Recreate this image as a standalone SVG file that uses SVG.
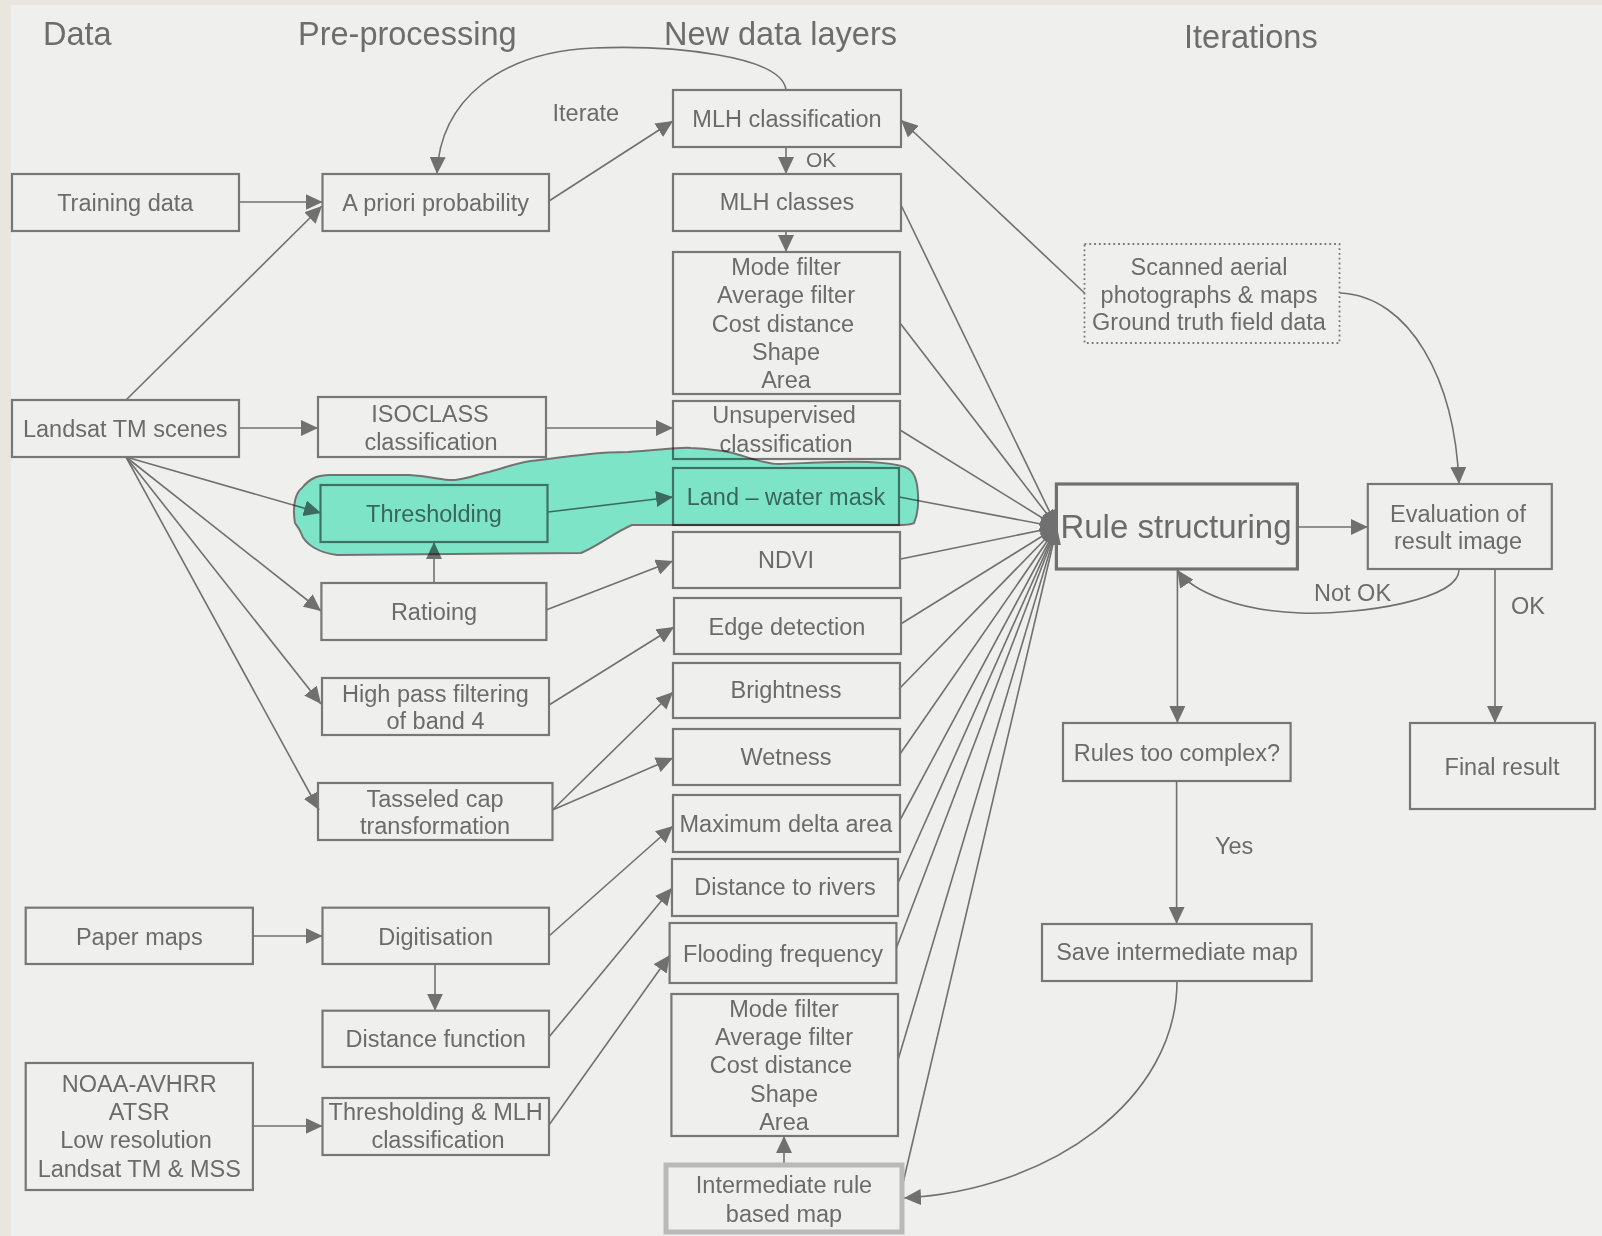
<svg xmlns="http://www.w3.org/2000/svg" width="1602" height="1236" viewBox="0 0 1602 1236">
<style>
.box{fill:none;stroke:#777;stroke-width:2.2}
.dot{fill:none;stroke:#777;stroke-width:1.8;stroke-dasharray:1.8 3}
.thick{fill:none;stroke:#707070;stroke-width:3.2}
.grey{fill:none;stroke:#b9b9b9;stroke-width:5}
.t{font-family:"Liberation Sans",Arial,sans-serif;font-size:23.5px;fill:#6b6b6b;text-anchor:middle}
.l{font-family:"Liberation Sans",Arial,sans-serif;font-size:23.5px;fill:#6b6b6b}
.h{font-family:"Liberation Sans",Arial,sans-serif;font-size:32.5px;fill:#6d6d6d}
.ln{fill:none;stroke:#707070;stroke-width:1.6;marker-end:url(#ah)}
.blob{fill:#85f4d8;stroke:#7a7a7a;stroke-width:2;mix-blend-mode:multiply}
</style>
<defs>
<marker id="ah" viewBox="0 0 17 16" refX="17" refY="8" markerWidth="17" markerHeight="16" markerUnits="userSpaceOnUse" orient="auto">
<path d="M0,0 L17,8 L0,16 z" fill="#707070"/>
</marker>
</defs>
<rect x="0" y="0" width="1602" height="1236" fill="#e9e6df"/>
<rect x="11" y="5" width="1591" height="1231" fill="#efefed"/>

<g id="headers">
<text class="h" x="43" y="45">Data</text>
<text class="h" x="298" y="45">Pre-processing</text>
<text class="h" x="664" y="45">New data layers</text>
<text class="h" x="1184" y="48">Iterations</text>
</g>

<g id="connectors">
<path class="ln" d="M786,90 C782,55 670,45 594,48 C500,52 440,100 437,174"/>
<line class="ln" x1="238.6" y1="202" x2="322.5" y2="202"/>
<line class="ln" x1="126" y1="400" x2="322" y2="206"/>
<line class="ln" x1="238.6" y1="428" x2="318" y2="428"/>
<line class="ln" x1="126" y1="457" x2="321" y2="513"/>
<line class="ln" x1="126" y1="457" x2="321" y2="611"/>
<line class="ln" x1="126" y1="457" x2="321" y2="704"/>
<line class="ln" x1="126" y1="457" x2="319" y2="810"/>
<line class="ln" x1="434" y1="583" x2="434" y2="542"/>
<line class="ln" x1="549" y1="201" x2="673" y2="121"/>
<line class="ln" x1="546" y1="428" x2="673" y2="428"/>
<line class="ln" x1="548" y1="512" x2="673" y2="497"/>
<line class="ln" x1="546" y1="610" x2="673" y2="561"/>
<line class="ln" x1="549" y1="705" x2="674" y2="627"/>
<line class="ln" x1="552.5" y1="810" x2="673" y2="692"/>
<line class="ln" x1="552.5" y1="810" x2="673" y2="758"/>
<line class="ln" x1="253" y1="936" x2="322.5" y2="936"/>
<line class="ln" x1="435" y1="964" x2="435" y2="1010.7"/>
<line class="ln" x1="253" y1="1126" x2="322.5" y2="1126"/>
<line class="ln" x1="549" y1="936" x2="673" y2="826"/>
<line class="ln" x1="549" y1="1037" x2="672" y2="888"/>
<line class="ln" x1="549" y1="1125" x2="670" y2="955"/>
<line class="ln" x1="786" y1="147" x2="786" y2="174"/>
<line class="ln" x1="786" y1="231" x2="786" y2="252"/>
<line class="ln" x1="784" y1="1163" x2="784" y2="1136"/>
<line class="ln" x1="1084.5" y1="293" x2="901" y2="120"/>
<line class="ln" x1="901" y1="205" x2="1057" y2="527"/>
<line class="ln" x1="900" y1="323" x2="1057" y2="527"/>
<line class="ln" x1="900" y1="430" x2="1057" y2="527"/>
<line class="ln" x1="899" y1="497" x2="1057" y2="527"/>
<line class="ln" x1="900.7" y1="559" x2="1057" y2="527"/>
<line class="ln" x1="900.7" y1="624" x2="1057" y2="527"/>
<line class="ln" x1="899" y1="689" x2="1057" y2="527"/>
<line class="ln" x1="900" y1="754" x2="1057" y2="527"/>
<line class="ln" x1="900" y1="820" x2="1057" y2="527"/>
<line class="ln" x1="898" y1="883" x2="1057" y2="527"/>
<line class="ln" x1="896.4" y1="948" x2="1057" y2="527"/>
<line class="ln" x1="898" y1="1060" x2="1057" y2="527"/>
<line class="ln" x1="903" y1="1183" x2="1057" y2="527"/>
<line class="ln" x1="1297.5" y1="527" x2="1367.8" y2="527"/>
<line class="ln" x1="1177.4" y1="569" x2="1177.4" y2="723"/>
<line class="ln" x1="1495" y1="569" x2="1495" y2="723"/>
<line class="ln" x1="1176.6" y1="781" x2="1176.6" y2="924"/>
<path class="ln" d="M1340,293 C1410,296 1455,380 1459,484"/>
<path class="ln" d="M1459,569 C1460,600 1360,615 1300,613 C1240,611 1192,592 1177.4,570"/>
<path class="ln" d="M1177,981 C1177,1100 1050,1190 904,1198"/>
</g>

<g id="labels">
<text class="l" x="552.5" y="121">Iterate</text>
<text class="l" x="806" y="167" style="font-size:21px">OK</text>
<text class="l" x="1314" y="601">Not OK</text>
<text class="l" x="1511" y="614">OK</text>
<text class="l" x="1215" y="854">Yes</text>
</g>

<g id="training"><rect class="box" x="12" y="174" width="227" height="57"/><text class="t" x="125.3" y="210.5">Training data</text></g>
<g id="apriori"><rect class="box" x="322.5" y="174" width="226.5" height="57"/><text class="t" x="435.7" y="210.5">A priori probability</text></g>
<g id="landsat"><rect class="box" x="12" y="400" width="227" height="57"/><text class="t" x="125.3" y="436.7">Landsat TM scenes</text></g>
<g id="isoclass"><rect class="box" x="318" y="397" width="228" height="60"/><text class="t"><tspan x="430" y="421.7">ISOCLASS</tspan><tspan x="431" y="450">classification</tspan></text></g>
<g id="thresholding"><rect class="box" x="320.5" y="485" width="227" height="57"/><text class="t" x="434" y="521.7">Thresholding</text></g>
<g id="ratioing"><rect class="box" x="321.4" y="583" width="225" height="57"/><text class="t" x="434" y="620">Ratioing</text></g>
<g id="highpass"><rect class="box" x="322" y="678" width="227" height="57"/><text class="t"><tspan x="435.5" y="701.7">High pass filtering</tspan><tspan x="435.5" y="729.3">of band 4</tspan></text></g>
<g id="tasseled"><rect class="box" x="318" y="783" width="234.5" height="57"/><text class="t"><tspan x="435" y="806.7">Tasseled cap</tspan><tspan x="435" y="834.3">transformation</tspan></text></g>
<g id="paper"><rect class="box" x="25.7" y="907.7" width="227.2" height="56.3"/><text class="t" x="139.3" y="945">Paper maps</text></g>
<g id="digitisation"><rect class="box" x="322.5" y="907.7" width="226.5" height="56.3"/><text class="t" x="435.7" y="945">Digitisation</text></g>
<g id="distfunc"><rect class="box" x="322.5" y="1010.7" width="226.5" height="56.3"/><text class="t" x="435.7" y="1046.7">Distance function</text></g>
<g id="noaa"><rect class="box" x="25.7" y="1063" width="227.2" height="127"/><text class="t"><tspan x="139.3" y="1092">NOAA-AVHRR</tspan><tspan x="139.3" y="1120">ATSR</tspan><tspan x="136" y="1148">Low resolution</tspan><tspan x="139.3" y="1177">Landsat TM &amp; MSS</tspan></text></g>
<g id="threshmlh"><rect class="box" x="322.5" y="1098" width="226.5" height="57"/><text class="t"><tspan x="435.7" y="1120">Thresholding &amp; MLH</tspan><tspan x="438" y="1148.3">classification</tspan></text></g>
<g id="mlhclass"><rect class="box" x="673" y="90" width="228" height="57"/><text class="t" x="787" y="126.7">MLH classification</text></g>
<g id="mlhclasses"><rect class="box" x="673" y="174" width="228" height="57"/><text class="t" x="787" y="210">MLH classes</text></g>
<g id="mode1"><rect class="box" x="673" y="252" width="227" height="142"/><text class="t"><tspan x="786" y="275">Mode filter</tspan><tspan x="786" y="303.3">Average filter</tspan><tspan x="783" y="331.7">Cost distance</tspan><tspan x="786" y="360">Shape</tspan><tspan x="786" y="388">Area</tspan></text></g>
<g id="unsup"><rect class="box" x="673" y="401" width="227" height="58"/><text class="t"><tspan x="784" y="423.3">Unsupervised</tspan><tspan x="786" y="451.7">classification</tspan></text></g>
<g id="landwater"><rect class="box" x="673" y="468" width="226" height="57"/><text class="t" x="786" y="505">Land – water mask</text></g>
<g id="ndvi"><rect class="box" x="673" y="532" width="227" height="56"/><text class="t" x="786" y="568">NDVI</text></g>
<g id="edge"><rect class="box" x="674" y="598" width="227" height="56"/><text class="t" x="787" y="635">Edge detection</text></g>
<g id="brightness"><rect class="box" x="673" y="663" width="227" height="55"/><text class="t" x="786" y="698">Brightness</text></g>
<g id="wetness"><rect class="box" x="673" y="729" width="227" height="56"/><text class="t" x="786" y="765">Wetness</text></g>
<g id="maxdelta"><rect class="box" x="673" y="795" width="227" height="57"/><text class="t" x="786" y="831.7">Maximum delta area</text></g>
<g id="distrivers"><rect class="box" x="672" y="859" width="226" height="57"/><text class="t" x="785" y="895">Distance to rivers</text></g>
<g id="flooding"><rect class="box" x="669.6" y="923" width="226.8" height="60"/><text class="t" x="783" y="961.7">Flooding frequency</text></g>
<g id="mode2"><rect class="box" x="671.4" y="994" width="226.6" height="142"/><text class="t"><tspan x="784" y="1017.3">Mode filter</tspan><tspan x="784" y="1045">Average filter</tspan><tspan x="781" y="1073.3">Cost distance</tspan><tspan x="784" y="1101.7">Shape</tspan><tspan x="784" y="1130">Area</tspan></text></g>
<g id="intermediate"><rect class="grey" x="666" y="1165" width="236" height="67"/><text class="t"><tspan x="784" y="1193.3">Intermediate rule</tspan><tspan x="784" y="1221.7">based map</tspan></text></g>
<g id="scanned"><rect class="dot" x="1084.5" y="244" width="255" height="99"/><text class="t"><tspan x="1209" y="275">Scanned aerial</tspan><tspan x="1209" y="302.7">photographs &amp; maps</tspan><tspan x="1209" y="330">Ground truth field data</tspan></text></g>
<g id="rule"><rect class="thick" x="1056.4" y="484" width="241" height="85"/><text class="t" x="1176" y="538" style="font-size:33px">Rule structuring</text></g>
<g id="evaluation"><rect class="box" x="1367.8" y="484" width="184" height="85"/><text class="t"><tspan x="1458" y="521.7">Evaluation of</tspan><tspan x="1458" y="549">result image</tspan></text></g>
<g id="rulescomplex"><rect class="box" x="1063" y="723" width="227.6" height="58"/><text class="t" x="1177" y="760.7">Rules too complex?</text></g>
<g id="final"><rect class="box" x="1410" y="723" width="185" height="86"/><text class="t" x="1502" y="775">Final result</text></g>
<g id="save"><rect class="box" x="1042" y="924" width="269.7" height="57"/><text class="t" x="1177" y="960">Save intermediate map</text></g>

<g id="highlight">
<path class="blob" d="M295,523 C292,505 296,492 302,488 C310,478 318,475 330,475 L409,475 C430,476 445,481 455,480 C470,478 478,474 489,472 C505,468 515,463 531,461 C570,456 600,452 628,452 C660,450 680,447 691,448 C710,449 720,450 733,453 C750,458 765,464 779,464 C810,463 845,461 868,462 C890,463 905,465 910,470 C920,478 920,510 914,523 C910,526 895,525 880,525 L632,525 C615,532 600,545 581,553 L337,555 C320,553 305,545 301,533 C299,528 297,526 295,523 Z"/>
</g>
</svg>
